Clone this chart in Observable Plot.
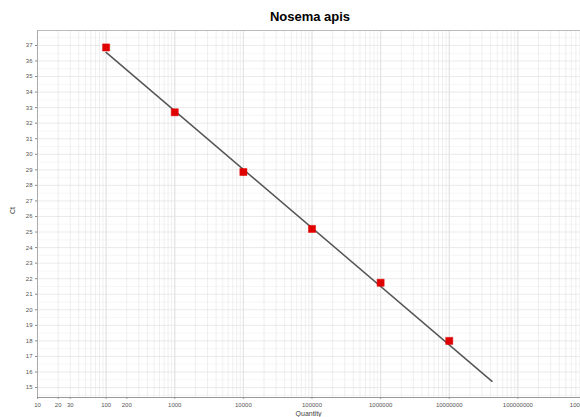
<!DOCTYPE html>
<html>
<head>
<meta charset="utf-8">
<script src="https://cdn.jsdelivr.net/npm/d3@7"></script>
<script src="https://cdn.jsdelivr.net/npm/@observablehq/plot@0.6"></script>
<style>
  body { margin: 0; background: #fff; font-family: "Liberation Sans", Arial, sans-serif; }
  #title { height: 26px; width: 580px; text-align: center; font-weight: bold; font-size: 13px; line-height: 34px; padding-left: 40px; box-sizing: border-box; }
  #chart svg { display: block; overflow: hidden; }
</style>
</head>
<body>
<div id="title">Nosema apis</div>
<div id="chart"></div>
<script>
const quantity = [100, 1000, 10000, 100000, 1000000, 10000000];
const ct = [36.87, 32.7, 28.86, 25.2, 21.74, 18.0];
const lineQuantity = [100, 42000000];
const lineCt = [36.55, 15.4];
const xTicks = [10, 20, 30, 100, 200, 1000, 10000, 100000, 1000000, 10000000, 100000000, 1000000000];
const yTicks = [15,16,17,18,19,20,21,22,23,24,25,26,27,28,29,30,31,32,33,34,35,36,37];

const points = quantity.map((q, i) => ({q, ct: ct[i]}));
const fitLine = lineQuantity.map((q, i) => ({q, ct: lineCt[i]}));
const yDomain = [14.36, 37.96];
const minorX = d3.scaleLog().domain([10, 1e9]).ticks();
const decadeX = minorX.filter(v => Math.abs(Math.log10(v) - Math.round(Math.log10(v))) < 1e-9);
const halfY = d3.range(14.5, 38, 1);

const chart = Plot.plot({
  width: 580,
  height: 391,
  marginTop: 4,
  marginBottom: 20,
  marginLeft: 37,
  marginRight: 0,
  style: {fontFamily: "Liberation Sans, Arial, sans-serif", fontSize: "6px", color: "#555"},
  x: {type: "log", domain: [10, 1e9], range: [37, 586], axis: null},
  y: {domain: yDomain, axis: null},
  marks: [
    Plot.ruleY(halfY, {stroke: "#f2f2f2", strokeWidth: 0.7}),
    Plot.ruleX(minorX, {stroke: "#e8e8e8", strokeWidth: 0.7}),
    Plot.ruleX(decadeX, {stroke: "#dedede", strokeWidth: 0.8}),
    Plot.ruleY(yTicks, {stroke: "#e4e4e4", strokeWidth: 0.8}),
    Plot.ruleY([yDomain[1]], {stroke: "#bbbbbb", strokeWidth: 1.2}),
    Plot.ruleY([yDomain[0]], {stroke: "#999", strokeWidth: 1}),
    Plot.ruleX([10], {stroke: "#aaa", strokeWidth: 1}),
    Plot.ruleX(xTicks, {x: d => d, y1: yDomain[0], y2: yDomain[0] - 0.13, stroke: "#888", strokeWidth: 0.8}),
    Plot.text(xTicks, {x: d => d, frameAnchor: "bottom", text: d => String(d), dy: 9, fill: "#555", fontSize: 6}),
    Plot.text(["Quantity"], {x: 10 ** 4.95, frameAnchor: "bottom", text: d => d, dy: 14, fill: "#444", fontSize: 7, lineAnchor: "top"}),
    Plot.axisY({ticks: yTicks, tickFormat: d => String(d), tickSize: 2, tickPadding: 3, stroke: "#888", fill: "#555", label: null}),
    Plot.text(["Ct"], {frameAnchor: "left", text: d => d, dx: -25, rotate: -90, fill: "#444", fontSize: 7}),
    Plot.line(fitLine, {x: "q", y: "ct", stroke: "#555555", strokeWidth: 1.5}),
    Plot.dot(points, {x: "q", y: "ct", symbol: "square", r: 4, fill: "#e10000", stroke: "#e10000", strokeWidth: 0.5})
  ]
});
document.getElementById("chart").appendChild(chart);
</script>
</body>
</html>
